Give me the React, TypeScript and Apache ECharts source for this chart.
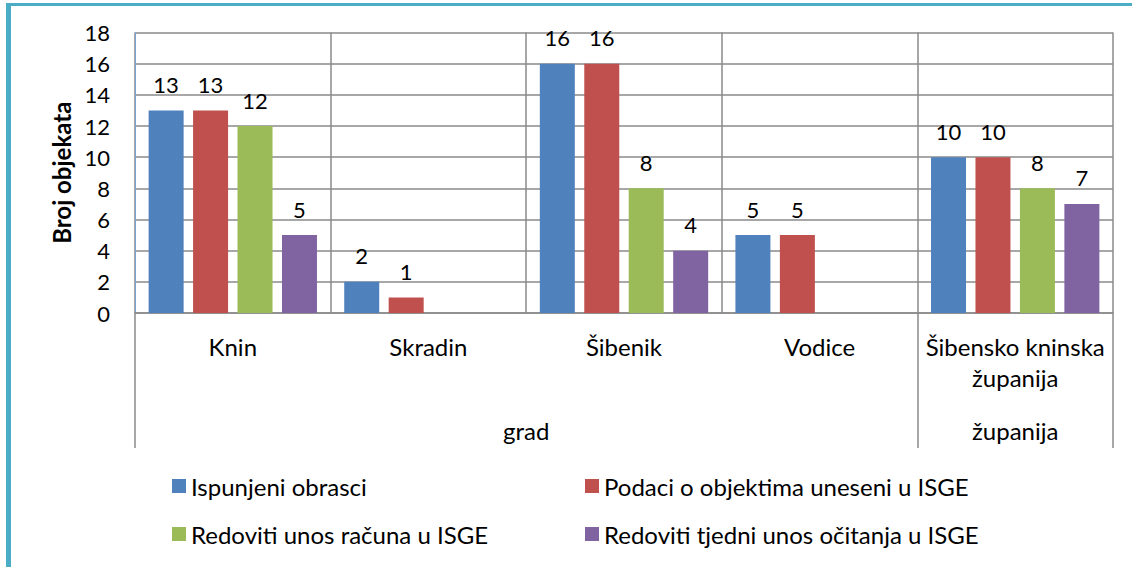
import React, { useEffect, useRef } from "react";
import * as echarts from "echarts";

const categories = ["Knin", "Skradin", "Šibenik", "Vodice", "Šibensko kninska\nžupanija"];
const groupLabels = ["grad", "županija"];
const groupSizes = [4, 1];

const seriesNames = [
  "Ispunjeni obrasci",
  "Podaci o objektima uneseni u ISGE",
  "Redoviti unos računa u ISGE",
  "Redoviti tjedni unos očitanja u ISGE",
];
const ispunjeni = [13, 2, 16, 5, 10];
const podaci = [13, 1, 16, 5, 10];
const racuni = [12, null, 8, null, 8];
const ocitanja = [5, null, 4, null, 7];

const yTicks = { min: 0, max: 18, interval: 2 };

const colors = ["#4F81BD", "#C0504D", "#9BBB59", "#8064A2"];
const FONT = "Lato";

export default function App() {
  const ref = useRef<HTMLDivElement>(null);

  useEffect(() => {
    document.body.style.margin = "0";
    if (!ref.current) return;
    const chart = echarts.init(ref.current, null, { renderer: "svg" });

    const bounds: number[] = [0];
    groupSizes.forEach((s) => bounds.push(bounds[bounds.length - 1] + s));
    const centers = groupSizes.map((s, i) => bounds[i] + s / 2);

    const gridLine = { color: "#8a8a8a", width: 1.5 };
    const seriesData = [ispunjeni, podaci, racuni, ocitanja];

    const legendPos = [
      { left: 172, top: 472 },
      { left: 585, top: 472 },
      { left: 172, top: 520 },
      { left: 585, top: 520 },
    ];

    chart.setOption({
      animation: false,
      textStyle: { fontFamily: FONT, color: "#000" },
      color: colors,
      grid: { left: 135, right: 19, top: 32.5, bottom: 254, containLabel: false },
      legend: seriesNames.map((n, i) => ({
        data: [n],
        left: legendPos[i].left,
        top: legendPos[i].top,
        padding: 0,
        itemWidth: 14,
        itemHeight: 14,
        itemGap: 0,
        icon: "rect",
        selectedMode: false,
        textStyle: { fontFamily: FONT, fontSize: 24, lineHeight: 28, color: "#000" },
      })),
      xAxis: [
        {
          type: "category",
          data: categories,
          position: "bottom",
          axisLine: { show: true, lineStyle: gridLine },
          axisTick: { show: false },
          splitLine: { show: true, lineStyle: gridLine },
          axisLabel: {
            interval: 0,
            fontFamily: FONT,
            fontSize: 24,
            lineHeight: 31,
            margin: 18,
            color: "#000",
          },
        },
        {
          type: "value",
          min: bounds[0],
          max: bounds[bounds.length - 1],
          position: "bottom",
          axisLine: { show: false },
          splitLine: { show: false },
          axisTick: {
            show: true,
            customValues: bounds,
            length: 135,
            lineStyle: gridLine,
          },
          axisLabel: {
            customValues: centers,
            formatter: (v: number) => {
              const idx = centers.findIndex((c) => Math.abs(c - v) < 1e-6);
              return idx >= 0 ? groupLabels[idx] : "";
            },
            fontFamily: FONT,
            fontSize: 24,
            margin: 105,
            color: "#000",
          },
        },
      ],
      yAxis: {
        type: "value",
        min: yTicks.min,
        max: yTicks.max,
        interval: yTicks.interval,
        axisLine: { show: true, lineStyle: { color: "#7ba3d6", width: 1 } },
        axisTick: { show: false },
        splitLine: { show: true, lineStyle: gridLine },
        axisLabel: { fontFamily: FONT, fontSize: 22, margin: 25, color: "#000" },
        name: "Broj objekata",
        nameLocation: "middle",
        nameGap: 56,
        nameTextStyle: { fontFamily: FONT, fontSize: 24, fontWeight: "bold", color: "#000" },
      },
      series: seriesNames.map((n, i) => ({
        name: n,
        type: "bar",
        xAxisIndex: 0,
        data: seriesData[i],
        barWidth: 35,
        barGap: "27%",
        itemStyle: { color: colors[i] },
        label: {
          show: true,
          position: "top",
          distance: 15,
          fontFamily: FONT,
          fontSize: 22,
          color: "#000",
        },
      })),
      graphic: [
        { type: "rect", left: 6, top: 3, shape: { width: 1126, height: 3 }, style: { fill: "#4BACC6" }, silent: true },
        { type: "rect", left: 6, top: 3, shape: { width: 5, height: 564 }, style: { fill: "#4BACC6" }, silent: true },
      ],
    });

    return () => chart.dispose();
  }, []);

  return <div ref={ref} style={{ width: 1132, height: 567 }} />;
}
